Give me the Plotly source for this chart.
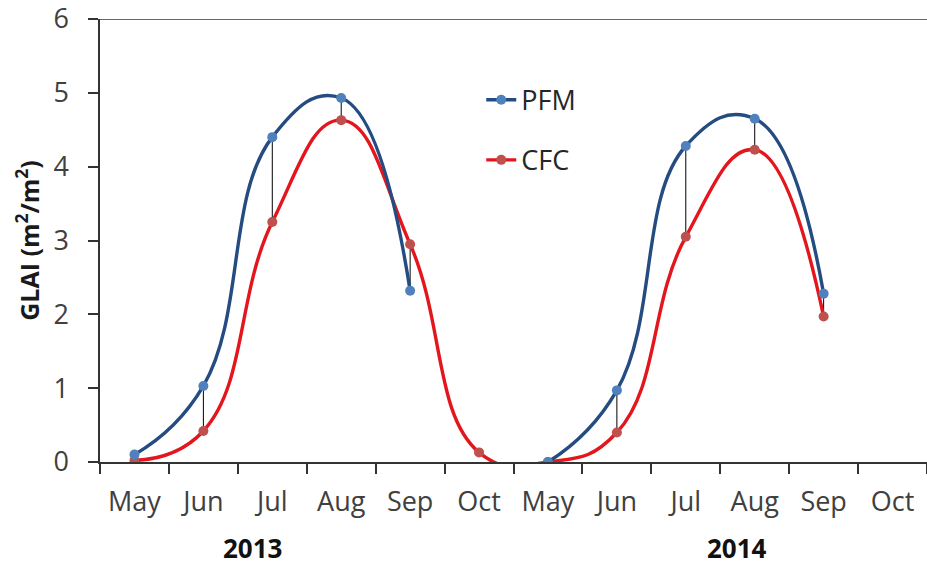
import plotly.graph_objects as go

months = ["May", "Jun", "Jul", "Aug", "Sep", "Oct", "May", "Jun", "Jul", "Aug", "Sep", "Oct"]
years = ["2013", "2014"]
pfm = [0.10, 1.03, 4.40, 4.93, 2.32, None, 0.00, 0.97, 4.28, 4.65, 2.28, None]
cfc = [0.02, 0.42, 3.25, 4.63, 2.95, 0.13, 0.00, 0.40, 3.05, 4.23, 1.97, None]

xi = list(range(len(months)))
FONT = "Open Sans"

fig = go.Figure()

# vertical connector lines between the two series
dx, dy = [], []
for i, (a, b) in enumerate(zip(pfm, cfc)):
    if a is not None and b is not None:
        dx += [i, i, None]
        dy += [a, b, None]
fig.add_trace(go.Scatter(x=dx, y=dy, mode="lines", line=dict(color="black", width=1),
                         showlegend=False, hoverinfo="skip"))

fig.add_trace(go.Scatter(x=xi, y=cfc, name="CFC", mode="lines+markers",
                         line=dict(color="#E3161D", width=3.4, shape="spline", smoothing=1.3),
                         marker=dict(color="#C0504D", size=10),
                         connectgaps=False, legendgroup="b", legendrank=2))
fig.add_trace(go.Scatter(x=xi, y=pfm, name="PFM", mode="lines+markers",
                         line=dict(color="#244C80", width=3.4, shape="spline", smoothing=1.3),
                         marker=dict(color="#4F81BD", size=10),
                         connectgaps=False, legendgroup="a", legendrank=1))

# invisible trace on second axis for boundary ticks
fig.add_trace(go.Scatter(x=[-0.5, 11.5], y=[None, None], xaxis="x2", showlegend=False, hoverinfo="skip"))

fig.update_layout(
    width=927, height=565,
    margin=dict(l=100, r=0, t=19, b=103),
    paper_bgcolor="white", plot_bgcolor="white",
    font=dict(family=FONT, size=27, color="#404040"),
    xaxis=dict(range=[-0.5, 11.5], tickmode="array", tickvals=xi, ticktext=months,
               ticks="", showline=True, linecolor="#333333", linewidth=1.5,
               showgrid=False, zeroline=False, ticklabelstandoff=15,
               tickfont=dict(size=27, color="#404040")),
    xaxis2=dict(range=[-0.5, 11.5], overlaying="x", side="bottom", tickmode="array",
                tickvals=[i - 0.5 for i in range(len(months) + 1)],
                ticks="outside", ticklen=11, tickwidth=1.5, tickcolor="#333333",
                showticklabels=False, showgrid=False, zeroline=False, showline=False),
    yaxis=dict(range=[0, 6], tickvals=[0, 1, 2, 3, 4, 5, 6], ticks="outside", ticklen=10,
               tickwidth=1.5, tickcolor="#333333", showline=True, linecolor="#333333",
               linewidth=1.5, showgrid=False, zeroline=False, ticklabelstandoff=14,
               ticklabeloverflow="allow",
               tickfont=dict(size=27, color="#404040"),
               title=dict(text="<b>GLAI (m<sup>2</sup>/m<sup>2</sup>)</b>",
                          font=dict(size=25, color="#1a1a1a"), standoff=7)),
    legend=dict(x=0.461, y=0.872, xanchor="left", yanchor="top", bgcolor="rgba(0,0,0,0)",
                font=dict(size=27, color="#262626"), traceorder="grouped", tracegroupgap=22),
    shapes=[dict(type="line", xref="paper", yref="y", x0=0, x1=1, y0=6, y1=6,
                 line=dict(color="#333333", width=1.5))],
    annotations=[
        dict(text="<b>" + years[0] + "</b>", xref="paper", yref="paper", x=0.184, y=-0.195,
             xanchor="center", yanchor="middle", showarrow=False,
             font=dict(size=26, color="#111111")),
        dict(text="<b>" + years[1] + "</b>", xref="paper", yref="paper", x=0.770, y=-0.195,
             xanchor="center", yanchor="middle", showarrow=False,
             font=dict(size=26, color="#111111")),
    ],
)

fig.write_html("out.html")
